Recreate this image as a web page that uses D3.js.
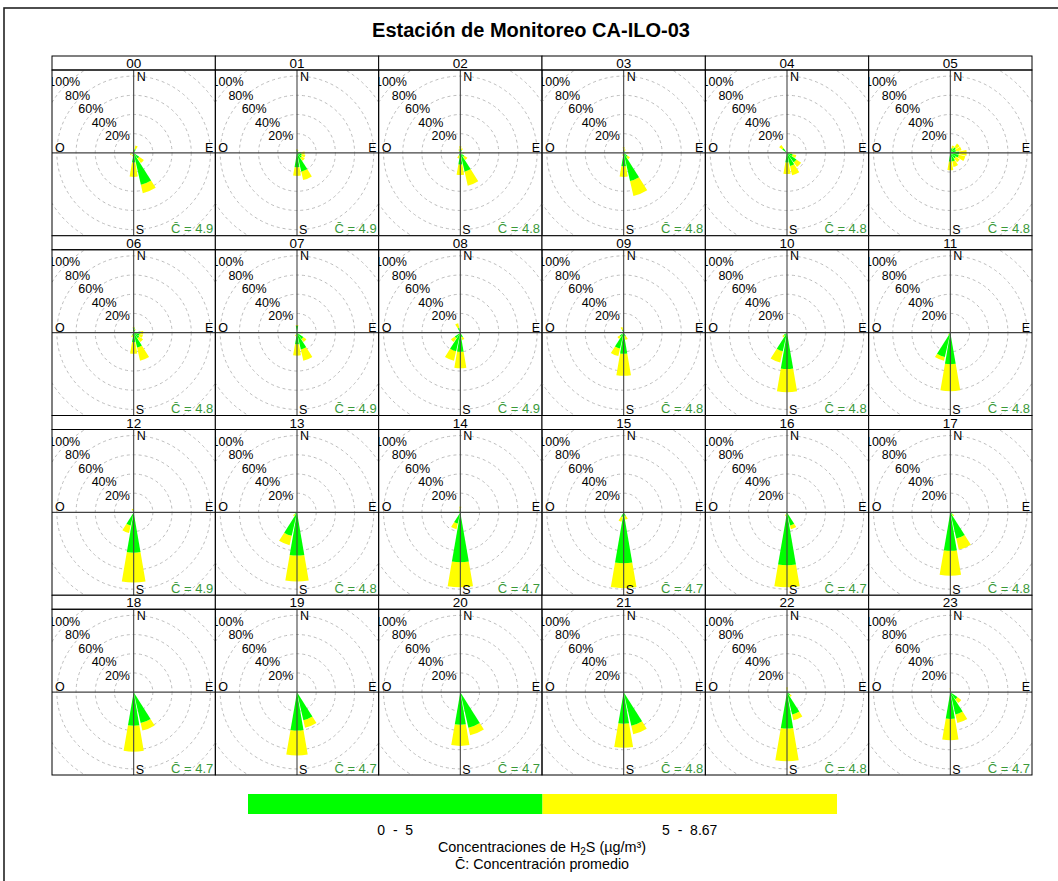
<!DOCTYPE html>
<html>
<head>
<meta charset="utf-8">
<script src="https://cdn.jsdelivr.net/npm/d3@7"></script>
<style>
  body { margin: 0; background: #fff; }
  svg { display: block; font-family: "Liberation Sans", Arial, sans-serif; }
</style>
</head>
<body>
<svg id="chart" width="1058" height="881"></svg>
<script>
// ---------------- DATA ----------------
const title = "Estación de Monitoreo CA-ILO-03";
const hours = ["00","01","02","03","04","05","06","07","08","09","10","11",
               "12","13","14","15","16","17","18","19","20","21","22","23"];
const directions = ["N","NNE","NE","ENE","E","ESE","SE","SSE","S","SSW","SW","WSW","W","WNW","NW","NNW"];
const dirAngles = [0,22.5,45,67.5,90,112.5,135,157.5,180,202.5,225,247.5,270,292.5,315,337.5];
const ringTicks = [20,40,60,80,100];
const ringLabels = ["20%","40%","60%","80%","100%"];
const meanConc = [4.9,4.9,4.8,4.8,4.8,4.8, 4.8,4.9,4.9,4.8,4.8,4.8,
                  4.9,4.8,4.7,4.7,4.7,4.8, 4.7,4.7,4.7,4.8,4.8,4.7];
const binLabels = ["0  -  5", "5  -  8.67"];
const binColors = ["#00ff00", "#ffff00"];
// frequency (%) of the 0-5 bin per direction, one row per hour
const pctLow = [
  [2,4,0,0,0,0,7,34,10,2,0,2,1,0,0,0],
  [3,2,0,0,4,5,6,20,15,0,0,0,0,0,0,0],
  [4,3,0,0,2,0,5,20,12,3,0,0,0,0,0,2],
  [3,2,0,0,3,0,5,30,14,2,0,0,0,0,0,0],
  [0,0,0,0,3,6,12,14,10,0,0,0,0,0,6,0],
  [0,5,7,6,9,9,7,9,9,0,0,0,0,0,0,0],
  [5,3,0,0,7,6,7,16,10,3,0,0,0,0,0,0],
  [7,0,0,0,4,0,8,18,12,2,0,0,0,0,0,0],
  [0,0,0,0,0,0,0,5,20,20,7,0,0,0,0,5],
  [2,0,0,0,0,0,0,4,22,17,5,0,0,0,0,3],
  [0,0,0,0,0,0,0,0,38,20,4,0,0,0,0,0],
  [1,0,0,0,0,0,0,0,33,26,2,0,0,0,0,0],
  [1,0,0,0,0,0,0,0,42,14,0,0,0,0,0,2],
  [0,0,0,0,0,0,0,0,45,25,3,0,0,0,0,0],
  [3,0,0,0,0,0,0,0,52,12,0,0,0,0,0,2],
  [0,0,0,0,0,0,0,4,53,5,0,0,0,0,0,0],
  [0,0,0,0,0,0,0,14,55,2,0,0,0,0,0,0],
  [0,0,0,0,0,0,3,28,40,0,0,0,0,0,0,0],
  [0,0,0,0,0,0,0,33,35,0,0,0,0,0,0,0],
  [0,0,0,0,0,0,0,30,40,0,0,0,0,0,0,0],
  [0,0,0,0,0,0,0,38,34,0,0,0,0,0,0,0],
  [0,0,0,0,0,0,0,36,33,0,0,0,0,0,0,0],
  [2,0,0,0,0,0,4,24,38,0,0,0,0,0,0,0],
  [2,0,0,0,0,0,9,24,28,0,0,0,0,0,0,0]
];
// frequency (%) of the 5-8.67 bin per direction, one row per hour
const pctHigh = [
  [1,4,0,0,0,0,6,9,15,2,0,2,1,0,0,0],
  [1,1,0,0,4,4,4,9,9,0,0,0,0,0,0,0],
  [3,2,0,0,2,0,4,15,11,3,0,0,0,0,0,2],
  [3,2,0,0,2,0,3,16,11,1,0,0,0,0,0,0],
  [0,0,0,0,2,4,6,10,12,0,0,0,0,0,4,0],
  [0,3,5,6,8,7,5,6,9,0,0,0,0,0,0,0],
  [1,1,0,0,3,4,5,14,12,2,0,0,0,0,0,0],
  [1,0,0,0,2,0,4,12,12,2,0,0,0,0,0,0],
  [0,0,0,0,0,0,0,3,17,10,5,0,0,0,0,5],
  [1,0,0,0,0,0,0,4,23,8,3,0,0,0,0,3],
  [0,0,0,0,0,0,0,0,24,12,2,0,0,0,0,0],
  [2,0,0,0,0,0,0,0,28,4,1,0,0,0,0,0],
  [1,0,0,0,0,0,0,0,31,8,0,0,0,0,0,2],
  [0,0,0,0,0,0,0,0,27,10,2,0,0,0,0,0],
  [3,0,0,0,0,0,0,0,26,6,0,0,0,0,0,1],
  [0,0,0,0,0,0,0,4,26,5,0,0,0,0,0,0],
  [0,0,0,0,0,0,0,4,23,2,0,0,0,0,0,0],
  [0,0,0,0,0,0,2,12,26,0,0,0,0,0,0,0],
  [0,0,0,0,0,0,0,8,27,0,0,0,0,0,0,0],
  [0,0,0,0,0,0,0,8,26,0,0,0,0,0,0,0],
  [0,0,0,0,0,0,0,8,22,0,0,0,0,0,0,0],
  [0,0,0,0,0,0,0,9,25,0,0,0,0,0,0,0],
  [3,0,0,0,0,0,2,6,34,0,0,0,0,0,0,0],
  [2,0,0,0,0,0,5,9,22,0,0,0,0,0,0,0]
];

// ---------------- LAYOUT ----------------
const svg = d3.select("#chart");
const W = 1058, H = 881;
const gridL = 52, gridR = 1032, gridT = 56, gridB = 775;
const nCols = 6, nRows = 4, stripH = 14;
const colW = (gridR - gridL) / nCols, rowH = (gridB - gridT) / nRows;
const rScale = d3.scaleLinear().domain([0, 100]).range([0, 96]);
const halfWidth = 9.75 * Math.PI / 180;
const fs = 12.5;

svg.append("rect").attr("x", 4).attr("y", 8).attr("width", W + 10).attr("height", H + 10)
  .attr("fill", "none").attr("stroke", "#222").attr("stroke-width", 1.6);

svg.append("text").attr("x", 531).attr("y", 37).attr("text-anchor", "middle")
  .attr("font-size", 20).attr("font-weight", "bold").text(title);

const defs = svg.append("defs");
const arc = d3.arc();

hours.forEach((h, i) => {
  const c = i % nCols, r = Math.floor(i / nCols);
  const x0 = gridL + c * colW, y0 = gridT + r * rowH;
  const pTop = y0 + stripH, pH = rowH - stripH;
  const cx = x0 + colW / 2, cy = pTop + pH / 2;
  const g = svg.append("g");

  defs.append("clipPath").attr("id", "clip" + i)
    .append("rect").attr("x", x0).attr("y", pTop).attr("width", colW).attr("height", pH);
  const pg = g.append("g").attr("clip-path", `url(#clip${i})`);

  // rings
  ringTicks.forEach(t => {
    pg.append("circle").attr("cx", cx).attr("cy", cy).attr("r", rScale(t))
      .attr("fill", "none").attr("stroke", "#b4b4b4").attr("stroke-width", 0.9)
      .attr("stroke-dasharray", "3,3");
  });

  // petals
  const petals = pg.append("g").attr("transform", `translate(${cx},${cy})`);
  directions.forEach((d, k) => {
    const lo = pctLow[i][k], hi = pctHigh[i][k];
    const a = dirAngles[k] * Math.PI / 180;
    if (lo + hi <= 0) return;
    petals.append("path").attr("d", arc({innerRadius: rScale(lo), outerRadius: rScale(lo + hi),
        startAngle: a - halfWidth, endAngle: a + halfWidth}))
      .attr("fill", binColors[1]);
    if (lo > 0) petals.append("path").attr("d", arc({innerRadius: 0, outerRadius: rScale(lo),
        startAngle: a - halfWidth, endAngle: a + halfWidth}))
      .attr("fill", binColors[0]);
  });

  // axes
  pg.append("line").attr("x1", cx).attr("x2", cx).attr("y1", pTop).attr("y2", pTop + pH)
    .attr("stroke", "#444").attr("stroke-width", 1.1);
  pg.append("line").attr("x1", x0).attr("x2", x0 + colW).attr("y1", cy).attr("y2", cy)
    .attr("stroke", "#444").attr("stroke-width", 1.1);

  // ring labels
  ringLabels.forEach((lab, k) => {
    pg.append("text").attr("x", cx - 16.2 - 13.3 * k).attr("y", cy - 17 - 13.5 * k + 4.5)
      .attr("text-anchor", "middle").attr("font-size", fs).attr("fill", "#000").text(lab);
  });
  // compass labels
  pg.append("text").attr("x", cx + 3).attr("y", pTop + 10.5).attr("font-size", fs).text("N");
  pg.append("text").attr("x", cx + 2).attr("y", pTop + pH - 1.5).attr("font-size", fs).text("S");
  pg.append("text").attr("x", x0 + 3).attr("y", cy - 1).attr("font-size", fs).text("O");
  pg.append("text").attr("x", x0 + colW - 2).attr("y", cy - 1).attr("text-anchor", "end")
    .attr("font-size", fs).text("E");
  pg.append("text").attr("x", x0 + colW - 2).attr("y", pTop + pH - 2.5).attr("text-anchor", "end")
    .attr("font-size", 13).attr("fill", "#3a9a3a").text("C\u0304 = " + meanConc[i].toFixed(1));

  // strip
  g.append("rect").attr("x", x0).attr("y", y0).attr("width", colW).attr("height", stripH)
    .attr("fill", "#fff").attr("stroke", "#000").attr("stroke-width", 1);
  g.append("text").attr("x", cx).attr("y", y0 + stripH - 2).attr("text-anchor", "middle")
    .attr("font-size", 13.5).text(h);
  // panel border
  g.append("rect").attr("x", x0).attr("y", pTop).attr("width", colW).attr("height", pH)
    .attr("fill", "none").attr("stroke", "#000").attr("stroke-width", 1);
});

// ---------------- LEGEND ----------------
const legX = d3.scaleBand().domain(binLabels).range([248, 837]).padding(0);
const leg = svg.append("g");
binLabels.forEach((b, k) => {
  leg.append("rect").attr("x", legX(b)).attr("y", 794).attr("width", legX.bandwidth()).attr("height", 20)
    .attr("fill", binColors[k]);
  leg.append("text").attr("x", legX(b) + legX.bandwidth() / 2).attr("y", 835)
    .attr("text-anchor", "middle").attr("font-size", 14).style("white-space", "pre").text(b);
});
const t1 = leg.append("text").attr("x", 542).attr("y", 852).attr("text-anchor", "middle").attr("font-size", 14.4);
t1.append("tspan").text("Concentraciones de H");
t1.append("tspan").attr("font-size", 10).attr("dy", 3).text("2");
t1.append("tspan").attr("dy", -3).text("S (µg/m³)");
leg.append("text").attr("x", 542).attr("y", 869).attr("text-anchor", "middle").attr("font-size", 14.3)
  .text("C\u0304: Concentración promedio");
</script>
</body>
</html>
